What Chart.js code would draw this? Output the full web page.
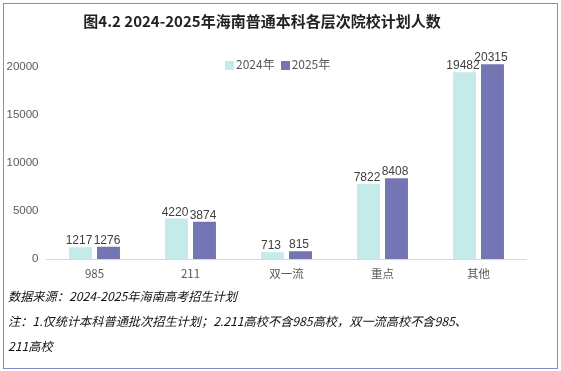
<!DOCTYPE html>
<html lang="zh">
<head>
  <meta charset="UTF-8">
  <title>海南普通本科各层次院校计划人数</title>
  <script src="https://cdn.jsdelivr.net/npm/chart.js"></script>
  <style>
    html, body { margin: 0; padding: 0; background: #fff; }
    #page { position: relative; width: 561px; height: 371px; overflow: hidden; font-family: "Noto Sans CJK SC", "Liberation Sans", sans-serif; }
    #frame { position: absolute; left: 3px; top: 3px; width: 553px; height: 364px; border: 1px solid #8a8ac4; }
    #chart { position: absolute; left: 0; top: 0; }
    #title { position: absolute; left: 0; width: 524px; top: 10px; text-align: center; font-size: 15px; font-weight: 700; color: #222; white-space: nowrap; }
    #legend { position: absolute; left: 225px; top: 55px; font-size: 12px; color: #595959; display: flex; gap: 6px; }
    #legend span.box { display: inline-block; width: 9px; height: 9px; margin-right: 2px; vertical-align: -1px; }
    .note { position: absolute; left: 8px; font-size: 12.2px; font-style: italic; color: #111; white-space: nowrap; }
  </style>
</head>
<body>
<div id="page">
  <canvas id="chart" width="561" height="371"></canvas>
  <div id="frame"></div>
  <div id="title">图4.2 2024-2025年海南普通本科各层次院校计划人数</div>
  <div id="legend"></div>
  <div class="note" style="top:287px">数据来源：2024-2025年海南高考招生计划</div>
  <div class="note" style="top:312px">注：1.仅统计本科普通批次招生计划；2.211高校不含985高校，双一流高校不含985、</div>
  <div class="note" style="top:337px">211高校</div>
</div>

<script>
  const categories = ["985", "211", "双一流", "重点", "其他"];
  const seriesNames = ["2024年", "2025年"];
  const values2024 = [1217, 4220, 713, 7822, 19482];
  const values2025 = [1276, 3874, 815, 8408, 20315];
  const yTicks = [0, 5000, 10000, 15000, 20000];
  const colors = ["#c5eaea", "#7476b3"];

  // legend
  const legend = document.getElementById("legend");
  seriesNames.forEach((name, i) => {
    const item = document.createElement("div");
    item.innerHTML = '<span class="box" style="background:' + colors[i] + '"></span>' + name;
    legend.appendChild(item);
  });

  // labels above bars
  const barLabels = {
    id: "barLabels",
    afterDatasetsDraw(chart) {
      const ctx = chart.ctx;
      ctx.save();
      ctx.font = "12px 'Liberation Sans', sans-serif";
      ctx.fillStyle = "#404040";
      ctx.textAlign = "center";
      ctx.textBaseline = "alphabetic";
      chart.data.datasets.forEach((ds, di) => {
        chart.getDatasetMeta(di).data.forEach((bar, i) => {
          ctx.fillText(ds.data[i], bar.x - 1.5, bar.y - 3);
        });
      });
      ctx.restore();
    }
  };

  new Chart(document.getElementById("chart"), {
    type: "bar",
    data: {
      labels: categories,
      datasets: [
        { label: seriesNames[0], data: values2024, backgroundColor: colors[0], categoryPercentage: 0.583, barPercentage: 0.82 },
        { label: seriesNames[1], data: values2025, backgroundColor: colors[1], categoryPercentage: 0.583, barPercentage: 0.82 }
      ]
    },
    options: {
      responsive: false,
      animation: false,
      layout: { padding: { left: 4.5, right: 34.5, top: 48, bottom: 82 } },
      plugins: { legend: { display: false }, tooltip: { enabled: false }, title: { display: false } },
      scales: {
        x: {
          grid: { display: false, drawTicks: false },
          border: { color: "#d9d9d9" },
          ticks: { color: "#595959", font: { size: 11.5, family: "'Noto Sans CJK SC', 'Liberation Sans', sans-serif" }, padding: 8 },
          afterFit(scale) { scale.height = 30; }
        },
        y: {
          min: 0,
          max: 22000,
          grid: { display: false, drawTicks: false },
          border: { display: false },
          ticks: {
            color: "#595959",
            font: { size: 11.5, family: "'Liberation Sans', sans-serif" },
            padding: 8,
            callback: v => String(v)
          },
          afterBuildTicks(scale) { scale.ticks = yTicks.map(v => ({ value: v })); },
          afterFit(scale) { scale.width = 42; }
        }
      }
    },
    plugins: [barLabels]
  });
</script>
</body>
</html>
